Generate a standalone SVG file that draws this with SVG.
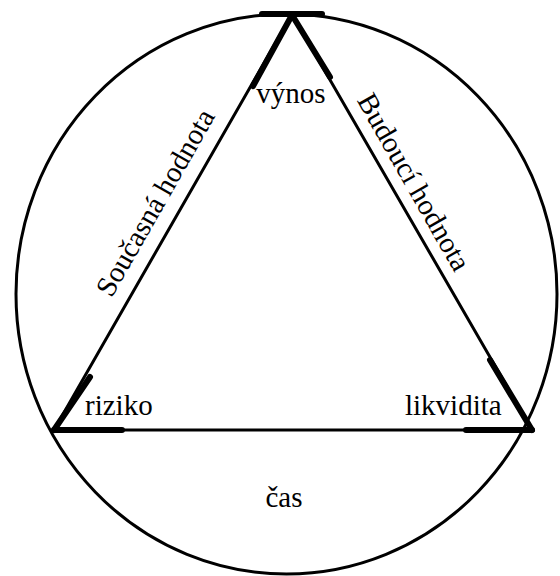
<svg xmlns="http://www.w3.org/2000/svg" width="560" height="576" viewBox="0 0 560 576">
<style>
.t{font-family:"Liberation Serif","Times New Roman",serif;font-size:29px;fill:#000}
.thin{stroke:#000;stroke-width:3;fill:none;stroke-linecap:round}
.thick{stroke:#000;stroke-width:6;fill:none;stroke-linecap:round}
</style>
<rect width="560" height="576" fill="#fff"/>
<g id="circle"><ellipse cx="286.5" cy="294" rx="270.5" ry="280" class="thin"/></g>
<g id="connectors">
<path class="thin" d="M292,14 L54,430 L532,430 Z" stroke-linejoin="miter"/>
<line class="thick" x1="292" y1="15" x2="253" y2="86"/>
<line class="thick" x1="292" y1="15" x2="330" y2="77"/>
<line class="thick" x1="54" y1="430" x2="90" y2="377"/>
<line class="thick" x1="54" y1="430" x2="122" y2="430"/>
<line class="thick" x1="532" y1="430" x2="490" y2="360"/>
<line class="thick" x1="532" y1="430" x2="466" y2="430"/>
<line class="thick" x1="262" y1="14" x2="322" y2="14"/>
</g>
<g id="vynos"><text class="t" x="291" y="103" text-anchor="middle">výnos</text></g>
<g id="riziko"><text class="t" x="85" y="415">riziko</text></g>
<g id="likvidita"><text class="t" x="405" y="415">likvidita</text></g>
<g id="cas"><text class="t" x="284" y="507" text-anchor="middle">čas</text></g>
<g id="soucasna"><text class="t" text-anchor="middle" transform="translate(163.6,207.3) rotate(-60.3)">Současná hodnota</text></g>
<g id="budouci"><text class="t" text-anchor="middle" transform="translate(405.6,186.8) rotate(60.4)">Budoucí hodnota</text></g>
</svg>
